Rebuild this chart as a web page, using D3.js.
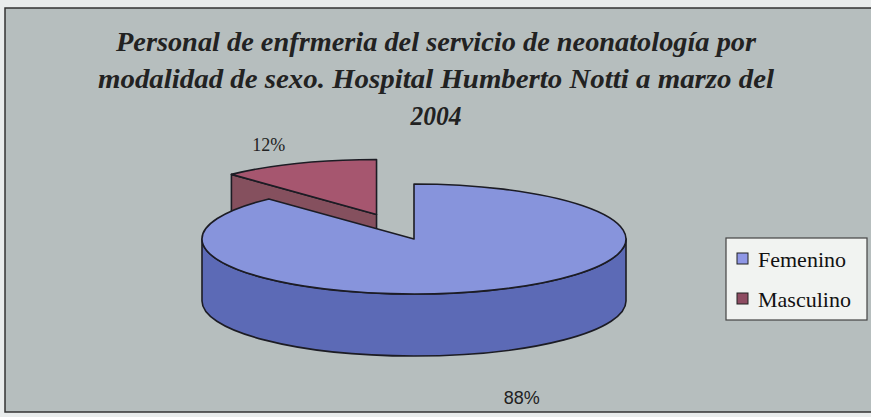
<!DOCTYPE html>
<html>
<head>
<meta charset="utf-8">
<script src="https://cdn.jsdelivr.net/npm/d3@7"></script>
<style>
  body { margin: 0; background: #e9ecec; }
</style>
</head>
<body>
<div id="container"></div>
<script>
// data
const categories = ["Femenino", "Masculino"];
const values = [88, 12];
const pctLabels = ["88%", "12%"];
const titleLines = [
  "Personal de enfrmeria del servicio de neonatología por",
  "modalidad de sexo. Hospital Humberto Notti a marzo del",
  "2004"
];

const width = 871, height = 417;
const topColors = ["#8794dc", "#a6566f"];
const sideColors = ["#5c6ab6", "#85505e"];
const swatchColors = ["#8f97e6", "#8e4c62"];

const svg = d3.select("#container")
  .append("svg")
    .attr("width", width)
    .attr("height", height);

// chart frame
svg.append("rect")
  .attr("x", 5).attr("y", 8)
  .attr("width", 880).attr("height", 404)
  .attr("fill", "#b6bebe")
  .attr("stroke", "#333")
  .attr("stroke-width", 1.5);

// title
const titleLen = [640, 676, 51];
svg.append("g").selectAll("text")
  .data(titleLines)
  .join("text")
    .attr("x", 436)
    .attr("y", (d, i) => 51 + i * 37)
    .attr("text-anchor", "middle")
    .attr("textLength", (d, i) => titleLen[i])
    .attr("lengthAdjust", "spacingAndGlyphs")
    .style("font-family", "'Liberation Serif', 'Times New Roman', serif")
    .style("font-weight", "bold")
    .style("font-style", "italic")
    .style("font-size", "27px")
    .style("fill", "#222")
    .text(d => d);

// 3d pie
const cx = 414, cy = 239, rx = 212, ry = 55, depth = 62;
const explode = [0, 0.48];

const pie = d3.pie().sort(null).value(d => d)(values);

function pt(a, ox, oy, dz) {
  return [cx + ox + rx * Math.sin(a), cy + oy - ry * Math.cos(a) + dz];
}
function topPath(d, ox, oy) {
  const p0 = pt(d.startAngle, ox, oy, 0), p1 = pt(d.endAngle, ox, oy, 0);
  const large = d.endAngle - d.startAngle > Math.PI ? 1 : 0;
  return `M${cx + ox},${cy + oy}L${p0}A${rx},${ry} 0 ${large} 1 ${p1}Z`;
}
function sidePath(d, ox, oy) {
  const s = Math.max(d.startAngle, Math.PI / 2), e = Math.min(d.endAngle, 3 * Math.PI / 2);
  if (s >= e) return null;
  const a0 = pt(s, ox, oy, 0), a1 = pt(e, ox, oy, 0);
  const b0 = pt(s, ox, oy, depth), b1 = pt(e, ox, oy, depth);
  return `M${a0}A${rx},${ry} 0 0 1 ${a1}L${b1}A${rx},${ry} 0 0 0 ${b0}Z`;
}
function facePath(a, ox, oy) {
  const p = pt(a, ox, oy, 0), q = pt(a, ox, oy, depth);
  return `M${cx + ox},${cy + oy}L${p}L${q}L${cx + ox},${cy + oy + depth}Z`;
}

const slices = pie.map((d, i) => {
  const mid = (d.startAngle + d.endAngle) / 2;
  return {
    d, i,
    ox: explode[i] * rx * Math.sin(mid),
    oy: -explode[i] * ry * Math.cos(mid)
  };
}).sort((a, b) => a.oy - b.oy);

const pieG = svg.append("g")
  .attr("stroke", "#1c1c24")
  .attr("stroke-width", 1.6)
  .attr("stroke-linejoin", "round");

slices.forEach(s => {
  const g = pieG.append("g");
  if (Math.sin(s.d.startAngle) < -1e-6)
    g.append("path").attr("d", facePath(s.d.startAngle, s.ox, s.oy)).attr("fill", sideColors[s.i]);
  if (Math.sin(s.d.endAngle) > 1e-6)
    g.append("path").attr("d", facePath(s.d.endAngle, s.ox, s.oy)).attr("fill", sideColors[s.i]);
  const sp = sidePath(s.d, s.ox, s.oy);
  if (sp) g.append("path").attr("d", sp).attr("fill", sideColors[s.i]);
  g.append("path").attr("d", topPath(s.d, s.ox, s.oy)).attr("fill", topColors[s.i]);
});

// percent labels
slices.forEach(s => {
  const mid = (s.d.startAngle + s.d.endAngle) / 2;
  const front = Math.cos(mid) < 0;
  const x = cx + s.ox + rx * 1.38 * Math.sin(mid);
  const y = front
    ? cy + s.oy + depth + ry * 1.9 * -Math.cos(mid) + 6
    : cy + s.oy - ry * 1.35 * Math.cos(mid) + 6;
  svg.append("text")
    .attr("x", x).attr("y", y)
    .attr("text-anchor", "middle")
    .style("font-family", front ? "'Liberation Sans', Arial, sans-serif" : "'Liberation Serif', 'Times New Roman', serif")
    .style("font-size", "18px")
    .style("fill", "#222")
    .text(pctLabels[s.i]);
});

// legend
const legend = svg.append("g").attr("transform", "translate(726,238)");
legend.append("rect")
  .attr("width", 141).attr("height", 82)
  .attr("fill", "#f1f3f1")
  .attr("stroke", "#444")
  .attr("stroke-width", 1.2);
const item = legend.selectAll("g.item")
  .data(categories)
  .join("g")
    .attr("class", "item")
    .attr("transform", (d, i) => `translate(11,${15 + i * 40})`);
item.append("rect")
  .attr("width", 11).attr("height", 11)
  .attr("fill", (d, i) => swatchColors[i])
  .attr("stroke", "#222");
item.append("text")
  .attr("x", 21).attr("y", 14)
  .style("font-family", "'Liberation Serif', 'Times New Roman', serif")
  .style("font-size", "22px")
  .style("fill", "#111")
  .text(d => d);
</script>
</body>
</html>
